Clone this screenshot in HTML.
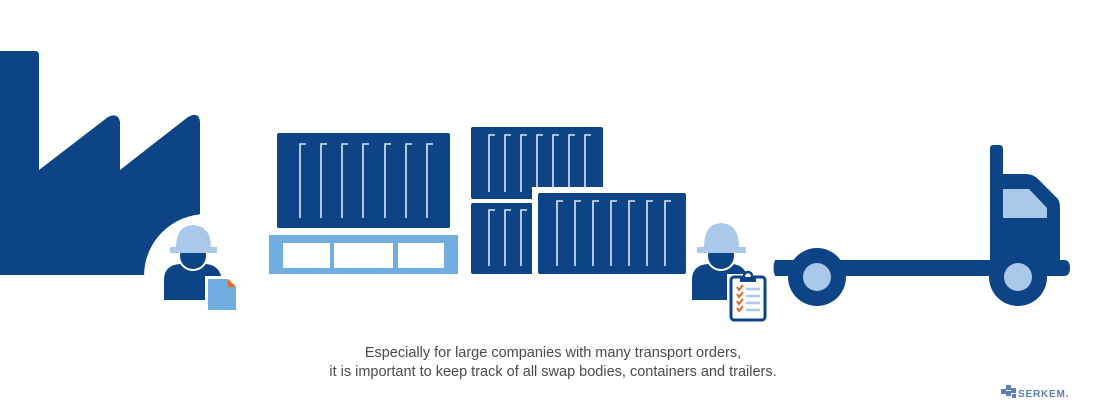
<!DOCTYPE html>
<html><head><meta charset="utf-8"><style>
html,body{margin:0;padding:0;background:#fff;}
body{width:1100px;height:413px;overflow:hidden;position:relative;}
.t{position:absolute;left:0;width:1106px;text-align:center;font-family:"Liberation Sans",sans-serif;font-size:14.5px;color:#4a4a4a;line-height:19px;}
</style></head><body>
<svg width="1100" height="413" viewBox="0 0 1100 413" style="position:absolute;left:0;top:0">
<path d="M0,51 H35 Q39,51 39,55 V170 L108,117 Q118,112 120,122 V170 L188,117 Q199,111 200,122 V275 H0 Z" fill="#0d4485"/>
<circle cx="206" cy="276" r="62" fill="#fff"/>
<g>
<path d="M164,300 V280 Q164,265 180,264 H206 Q220,265 222,280 V300 Z" fill="#0d4485"/>
<circle cx="193" cy="256" r="15" fill="#fff"/>
<circle cx="193" cy="256" r="13" fill="#0d4485"/>
<path d="M176,247 Q176,226 193,225 Q211,226 211,247 H217 V253 H170 V247 Z" fill="#a9c8ea"/>
<rect x="205" y="276" width="33" height="36" fill="#fff"/>
<path d="M208,279 H228 L236,287 V310 H208 Z" fill="#6fade0"/>
<path d="M228,279 L236,287 H228 Z" fill="#e8671c"/>
</g>
<rect x="277" y="133" width="173" height="95" rx="2" fill="#0d4485"/>
<rect x="269" y="235" width="189" height="39" fill="#6fade0"/>
<rect x="283" y="243" width="47" height="25" fill="#fff"/>
<rect x="334" y="243" width="59" height="25" fill="#fff"/>
<rect x="398" y="243" width="46" height="25" fill="#fff"/>
<rect x="471" y="127" width="132" height="72" rx="2" fill="#0d4485"/>
<rect x="471" y="203" width="70" height="71" rx="2" fill="#0d4485"/>
<g fill="none" stroke="#dfe7f2" stroke-width="1.6">
<path d="M300,218V144h6 M321,218V144h6 M342,218V144h6 M363,218V144h6 M385,218V144h6 M406,218V144h6 M427,218V144h6"/>
<path d="M489,192V135h6 M505,192V135h6 M521,192V135h6 M537,192V135h6 M553,192V135h6 M569,192V135h6 M585,192V135h6"/>
<path d="M489,266V210h6 M505,266V210h6 M521,266V210h6"/>
</g>
<rect x="532" y="187" width="71" height="90" fill="#fff"/>
<rect x="538" y="193" width="148" height="81" rx="2" fill="#0d4485"/>
<g fill="none" stroke="#dfe7f2" stroke-width="1.6">
<path d="M557,266V201h6 M575,266V201h6 M593,266V201h6 M611,266V201h6 M629,266V201h6 M647,266V201h6 M665,266V201h6"/>
</g>
<g>
<path d="M692,300 V280 Q692,265 708,264 H732 Q746,265 748,280 V300 Z" fill="#0d4485"/>
<circle cx="721" cy="256" r="15" fill="#fff"/>
<circle cx="721" cy="256" r="13" fill="#0d4485"/>
<path d="M704,247 Q704,224 721,223 Q739,224 739,247 H746 V253 H697 V247 Z" fill="#a9c8ea"/>
<rect x="727" y="274" width="42" height="49" fill="#fff"/>
<rect x="731" y="277" width="34" height="43" rx="3" fill="#fff" stroke="#0d4485" stroke-width="3"/>
<circle cx="748" cy="276" r="4" fill="#fff" stroke="#0d4485" stroke-width="2.5"/>
<rect x="740" y="277" width="16" height="5" fill="#0d4485"/>
<g stroke="#e8671c" stroke-width="2" fill="none"><path d="M737,287 l2,3 4,-5"/><path d="M737,294 l2,3 4,-5"/><path d="M737,301 l2,3 4,-5"/><path d="M737,308 l2,3 4,-5"/></g>
<g stroke="#a9c8ea" stroke-width="2.5"><path d="M746,289 H760 M746,296 H760 M746,303 H760 M746,310 H760"/></g>
</g>
<path d="M775,260 H990 V148 Q990,145 994,145 H1000 Q1003,145 1003,150 V174 H1026 Q1033,174 1038,179 L1058,199 Q1060,202 1060,208 V260 H1064 Q1070,260 1070,268 Q1070,276 1064,276 H775 Q772,268 775,260 Z" fill="#0d4485"/>
<path d="M1003,189 H1029 L1047,208 V218 H1003 Z" fill="#a9c8ea"/>
<circle cx="817" cy="277" r="29" fill="#0d4485"/>
<circle cx="817" cy="277" r="14" fill="#a9c8ea"/>
<circle cx="1018" cy="277" r="29" fill="#0d4485"/>
<circle cx="1018" cy="277" r="14" fill="#a9c8ea"/>
<g fill="#5b7fb6"><rect x="1001" y="389" width="5" height="5"/><rect x="1006" y="385" width="5" height="5"/><rect x="1006" y="391" width="5" height="5"/><rect x="1011" y="388" width="5" height="5"/><rect x="1012" y="394" width="4" height="4"/></g>
<text x="1018" y="397" font-family="Liberation Sans,sans-serif" font-size="10" font-weight="bold" fill="#5b7fb6" letter-spacing="0.8">SERKEM.</text>
</svg>
<div class="t" style="top:344px">Especially for large companies with many transport orders,<br>it is important to keep track of all swap bodies, containers and trailers.</div>
</body></html>
